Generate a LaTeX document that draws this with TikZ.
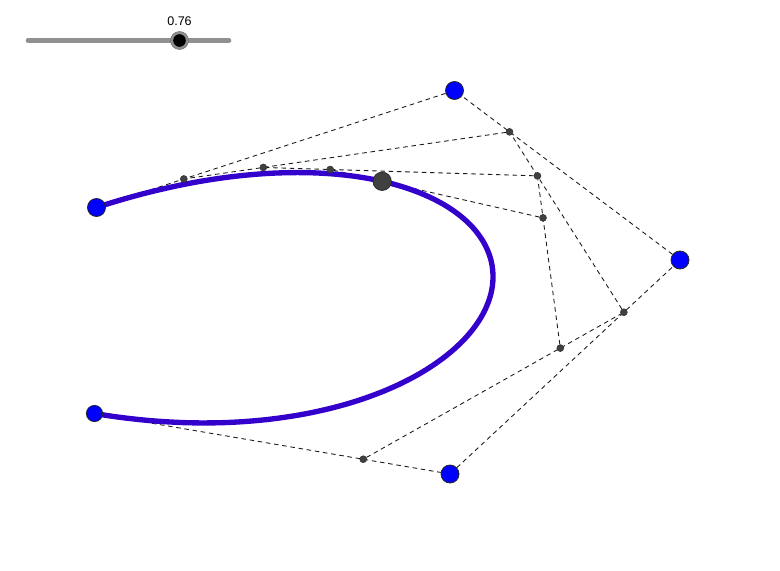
\documentclass[tikz,border=0pt]{standalone}
\usepackage{fontspec}
\setmainfont{Liberation Sans}
\usetikzlibrary{calc,backgrounds}
\definecolor{curveblue}{HTML}{3300CC}
\definecolor{ptblue}{HTML}{0000FF}
\definecolor{ptdark}{HTML}{404040}
\definecolor{slidergray}{HTML}{909090}
\tikzset{
  ctrlpt/.style={circle,draw=black!85,line width=0.6pt,fill=ptblue,inner sep=0pt,minimum size=13.5pt},
  smallpt/.style={circle,draw=black!80,line width=0.4pt,fill=ptdark,inner sep=0pt,minimum size=5.2pt},
  bigpt/.style={circle,draw=black!85,line width=0.5pt,fill=ptdark,inner sep=0pt,minimum size=13.8pt},
  construct/.style={draw=black!90,line width=0.65pt,dash pattern=on 3.4pt off 2.8pt},
  bezier/.style={draw=curveblue,line width=4pt,line join=round},
  track/.style={draw=slidergray,line width=3.4pt,line cap=round},
  knobout/.style={circle,fill=slidergray,draw=slidergray!80!black,line width=0.4pt,inner sep=0pt,minimum size=13.5pt},
  knobin/.style={circle,fill=black,inner sep=0pt,minimum size=9.5pt},
}
\def\ax{94.5}\def\ay{413.5}
\def\bx{450}\def\by{474}
\def\cx{680}\def\cy{260}
\def\dx{454.5}\def\dy{90.5}
\def\ex{96.5}\def\ey{207.5}
\def\tv{0.756}
\begin{document}
\begin{tikzpicture}[x=0.75pt,y=-0.75pt]
\useasboundingbox (0,0) rectangle (780,570);
% control points
\node[ctrlpt,minimum size=12.2pt] (P0) at (\ax,\ay) {};
\node[ctrlpt] (P1) at (\bx,\by) {};
\node[ctrlpt] (P2) at (\cx,\cy) {};
\node[ctrlpt] (P3) at (\dx,\dy) {};
\node[ctrlpt] (P4) at (\ex,\ey) {};
% de Casteljau levels
\node[smallpt] (Q0) at ($(P0)!\tv!(P1)$) {};
\node[smallpt] (Q1) at ($(P1)!\tv!(P2)$) {};
\node[smallpt] (Q2) at ($(P2)!\tv!(P3)$) {};
\node[smallpt] (Q3) at ($(P3)!\tv!(P4)$) {};
\node[smallpt] (R0) at ($(Q0)!\tv!(Q1)$) {};
\node[smallpt] (R1) at ($(Q1)!\tv!(Q2)$) {};
\node[smallpt] (R2) at ($(Q2)!\tv!(Q3)$) {};
\node[smallpt] (S0) at ($(R0)!\tv!(R1)$) {};
\node[smallpt] (S1) at ($(R1)!\tv!(R2)$) {};
\node[bigpt] (T) at ($(S0)!\tv!(S1)$) {};
\begin{scope}[on background layer]
  \fill[white] (0,0) rectangle (780,570);
  \path[construct] (P0) -- (P1);
  \path[construct] (P1) -- (P2);
  \path[construct] (P2) -- (P3);
  \path[construct] (P3) -- (P4);
  \path[construct] (Q0) -- (Q1);
  \path[construct] (Q1) -- (Q2);
  \path[construct] (Q2) -- (Q3);
  \path[construct] (R0) -- (R1);
  \path[construct] (R1) -- (R2);
  \path[construct] (S0) -- (S1);
  \path[bezier] plot[smooth,samples=121,domain=0:1,variable=\u]
    ({(1-\u)^4*\ax+4*(1-\u)^3*\u*\bx+6*(1-\u)^2*\u^2*\cx+4*(1-\u)*\u^3*\dx+\u^4*\ex},
     {(1-\u)^4*\ay+4*(1-\u)^3*\u*\by+6*(1-\u)^2*\u^2*\cy+4*(1-\u)*\u^3*\dy+\u^4*\ey});
\end{scope}
% slider
\coordinate (sliderL) at (28,40.5);
\coordinate (sliderR) at (229,40.5);
\draw[track] (sliderL) -- (sliderR);
\node[knobout] (knob) at (179.5,40.5) {};
\node[knobin] (knobc) at (knob) {};
\node[font=\fontsize{9.4pt}{11pt}\selectfont,text=black,inner sep=0pt] (val) at (179.5,21) {0.76};
\end{tikzpicture}
\end{document}
